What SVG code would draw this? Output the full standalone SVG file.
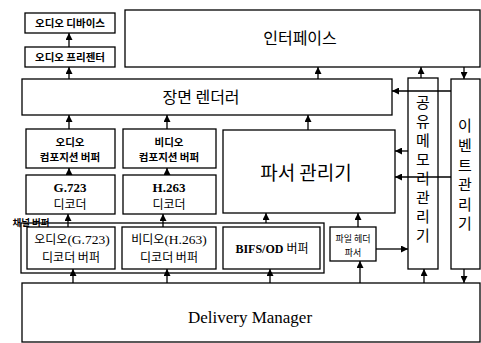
<svg xmlns="http://www.w3.org/2000/svg" width="481" height="343" viewBox="0 0 481 343">
<style>
.box{fill:#fff;stroke:#000;stroke-width:1.3}
.k{font-family:"Noto Sans CJK KR","Liberation Sans",sans-serif;fill:#000;text-anchor:middle}
.s{font-family:"Liberation Serif","Noto Sans CJK KR",serif;fill:#000;text-anchor:middle}
.c line,.c path{stroke:#000;stroke-width:1.3;fill:none;marker-end:url(#ah)}
</style>
<defs>
<marker id="ah" viewBox="0 0 8 8" refX="8" refY="4" markerWidth="7" markerHeight="7" markerUnits="userSpaceOnUse" orient="auto">
<path d="M0,0 L8,4 L0,8 z" fill="#000"/>
</marker>
</defs>
<rect width="481" height="343" fill="#fff"/>

<g id="audio-device"><rect class="box" x="25" y="13" width="90" height="20"/><text class="k" x="70" y="27" font-size="10.5" font-weight="bold">오디오 디바이스</text></g>
<g id="audio-presenter"><rect class="box" x="25" y="47" width="90" height="20"/><text class="k" x="70" y="61" font-size="10.5" font-weight="bold">오디오 프리젠터</text></g>
<g id="interface"><rect class="box" x="125" y="10" width="355" height="57"/><text class="k" x="300" y="44" font-size="16">인터페이스</text></g>
<g id="scene-renderer"><rect class="box" x="22" y="79" width="370" height="36"/><text class="k" x="201" y="103" font-size="16">장면 렌더러</text></g>
<g id="audio-comp"><rect class="box" x="26" y="129" width="89" height="39"/><text class="k" x="70" y="146" font-size="10.5" font-weight="bold">오디오</text><text class="k" x="70" y="161" font-size="10.5" font-weight="bold">컴포지션 버퍼</text></g>
<g id="video-comp"><rect class="box" x="123" y="129" width="93" height="39"/><text class="k" x="169" y="146" font-size="10.5" font-weight="bold">비디오</text><text class="k" x="169" y="161" font-size="10.5" font-weight="bold">컴포지션 버퍼</text></g>
<g id="parser-manager"><rect class="box" x="223" y="130" width="172" height="83"/><text class="k" x="306" y="180" font-size="19">파서 관리기</text></g>
<g id="g723-decoder"><rect class="box" x="26" y="175" width="89" height="39"/><text class="s" x="70" y="192" font-size="13" font-weight="bold">G.723</text><text class="k" x="70" y="209" font-size="12">디코더</text></g>
<g id="h263-decoder"><rect class="box" x="123" y="175" width="93" height="39"/><text class="s" x="169" y="192" font-size="13" font-weight="bold">H.263</text><text class="k" x="169" y="209" font-size="12">디코더</text></g>
<g id="channel-buffer"><rect class="box" x="21" y="223" width="303" height="50"/><text class="k" x="31" y="226" font-size="9.5" font-weight="bold">채널 버퍼</text></g>
<g id="audio-dec-buf"><rect class="box" x="27" y="227" width="88" height="42"/><text class="k" x="72" y="244" font-size="12"><tspan>오디오</tspan><tspan font-family="Liberation Serif,serif" font-size="13.5">(G.723)</tspan></text><text class="k" x="71" y="262" font-size="12">디코더 버퍼</text></g>
<g id="video-dec-buf"><rect class="box" x="122" y="227" width="94" height="42"/><text class="k" x="169" y="244" font-size="12"><tspan>비디오</tspan><tspan font-family="Liberation Serif,serif" font-size="13.5">(H.263)</tspan></text><text class="k" x="169" y="262" font-size="12">디코더 버퍼</text></g>
<g id="bifs-buf"><rect class="box" x="223" y="227" width="97" height="42"/><text class="s" x="272" y="253" font-size="12" font-weight="bold">BIFS/OD <tspan font-family="Noto Sans CJK KR,sans-serif" font-weight="normal">버퍼</tspan></text></g>
<g id="file-header-parser"><rect class="box" x="330" y="227" width="46" height="34"/><text class="k" x="353" y="242" font-size="9">파일 헤더</text><text class="k" x="353" y="256" font-size="9">파서</text></g>
<g id="shared-memory"><rect class="box" x="408" y="78" width="30" height="191"/>
<text class="k" x="423" font-size="15"><tspan x="423" y="108">공</tspan><tspan x="423" y="127">유</tspan><tspan x="423" y="146">메</tspan><tspan x="423" y="165">모</tspan><tspan x="423" y="184">리</tspan><tspan x="423" y="203">관</tspan><tspan x="423" y="222">리</tspan><tspan x="423" y="241">기</tspan></text></g>
<g id="event-manager"><rect class="box" x="451" y="79" width="29" height="190"/>
<text class="k" x="465" font-size="15"><tspan x="465" y="131">이</tspan><tspan x="465" y="151">벤</tspan><tspan x="465" y="171">트</tspan><tspan x="465" y="190">관</tspan><tspan x="465" y="210">리</tspan><tspan x="465" y="229">기</tspan></text></g>
<g id="delivery-manager"><rect class="box" x="22" y="283" width="458" height="59"/><text class="s" x="250" y="323" font-size="17">Delivery Manager</text></g>

<g id="connectors" class="c">
<line x1="69" y1="47" x2="69" y2="33"/>
<line x1="69" y1="79" x2="69" y2="67"/>
<line x1="318" y1="79" x2="318" y2="67"/>
<line x1="421" y1="78" x2="421" y2="67"/>
<line x1="464" y1="67" x2="464" y2="79"/>
<line x1="451" y1="91" x2="392" y2="91"/>
<line x1="408" y1="151" x2="395" y2="151"/>
<line x1="451" y1="177" x2="395" y2="177"/>
<line x1="69" y1="129" x2="69" y2="115"/>
<line x1="167" y1="129" x2="167" y2="115"/>
<line x1="308" y1="130" x2="308" y2="115"/>
<line x1="69" y1="175" x2="69" y2="168"/>
<line x1="167" y1="175" x2="167" y2="168"/>
<line x1="68" y1="227" x2="68" y2="214"/>
<line x1="163" y1="227" x2="163" y2="214"/>
<line x1="266" y1="223" x2="266" y2="213"/>
<line x1="358" y1="227" x2="358" y2="213"/>
<line x1="376" y1="249" x2="408" y2="249"/>
<line x1="73" y1="283" x2="73" y2="269"/>
<line x1="167" y1="283" x2="167" y2="269"/>
<line x1="270" y1="283" x2="270" y2="269"/>
<line x1="360" y1="283" x2="360" y2="261"/>
<line x1="424" y1="283" x2="424" y2="269"/>
<line x1="464" y1="269" x2="464" y2="283"/>
</g>
</svg>
